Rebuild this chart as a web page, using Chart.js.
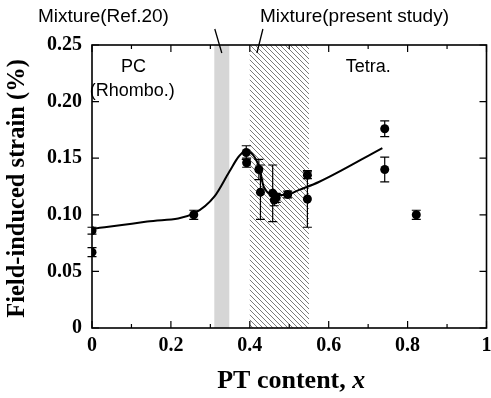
<!DOCTYPE html>
<html>
<head>
<meta charset="utf-8">
<script src="https://cdn.jsdelivr.net/npm/chart.js@4/dist/chart.umd.min.js"></script>
<style>
  html, body { margin: 0; padding: 0; background: #fff; }
  #wrap { width: 491px; height: 398px; }
</style>
</head>
<body>
<div id="wrap"><canvas id="c" width="491" height="398"></canvas></div>
<script>
// Measured strain vs. PT content (x), with error half-widths
const ptContent = [0, 0, 0.258, 0.391, 0.392, 0.423, 0.427, 0.458, 0.462, 0.467, 0.496, 0.546, 0.546, 0.742, 0.742, 0.822];
const strain    = [0.086, 0.067, 0.100, 0.155, 0.146, 0.140, 0.120, 0.119, 0.113, 0.115, 0.118, 0.135, 0.114, 0.176, 0.140, 0.100];
const strainErr = [0.003, 0.004, 0.004, 0.006, 0.004, 0.009, 0.024, 0.025, 0.005, 0.004, 0.003, 0.003, 0.025, 0.007, 0.011, 0.004];

// Guide-to-the-eye trend curve
const trendX = [0, 0.14, 0.26, 0.31, 0.348, 0.372, 0.39, 0.425, 0.435, 0.466, 0.496, 0.525, 0.575, 0.736];
const trendY = [0.0875, 0.094, 0.1015, 0.116, 0.138, 0.1515, 0.1566, 0.141, 0.125, 0.1175, 0.118, 0.122, 0.129, 0.159];

// Phase-mixture ranges
const refMixture = [0.31, 0.348];
const studyMixture = [0.40, 0.55];

// Axis ticks
const xTicks = [0, 0.2, 0.4, 0.6, 0.8, 1];
const yTicks = [0, 0.05, 0.10, 0.15, 0.20, 0.25];

const SERIF = '"Liberation Serif", "Times New Roman", serif';
const SANS = '"Liberation Sans", Arial, sans-serif';

function hatchPattern(ctx) {
  const p = document.createElement('canvas');
  p.width = 5; p.height = 5;
  const g = p.getContext('2d');
  g.fillStyle = '#fff';
  g.fillRect(0, 0, 5, 5);
  g.strokeStyle = '#7a7a7a';
  g.lineWidth = 1;
  g.beginPath();
  for (let k = -1; k <= 1; k++) {
    g.moveTo(k * 5, 0);
    g.lineTo(k * 5 + 5, 5);
  }
  g.stroke();
  return ctx.createPattern(p, 'repeat');
}

// Shaded mixture bands, error bars, frame, inward ticks and region labels
const decorations = {
  id: 'decorations',
  beforeDatasetsDraw(chart) {
    const { ctx, chartArea: a, scales: { x } } = chart;
    ctx.save();
    ctx.fillStyle = '#d6d6d6';
    const r0 = x.getPixelForValue(refMixture[0]), r1 = x.getPixelForValue(refMixture[1]);
    ctx.fillRect(r0, a.top, r1 - r0, a.bottom - a.top);
    ctx.fillStyle = hatchPattern(ctx);
    const s0 = x.getPixelForValue(studyMixture[0]), s1 = x.getPixelForValue(studyMixture[1]);
    ctx.fillRect(s0, a.top, s1 - s0, a.bottom - a.top);
    ctx.restore();
  },
  afterDatasetsDraw(chart) {
    const { ctx, chartArea: a, scales: { x, y } } = chart;
    ctx.save();
    ctx.strokeStyle = '#000';
    ctx.lineWidth = 1.2;
    for (let i = 0; i < ptContent.length; i++) {
      const px = x.getPixelForValue(ptContent[i]);
      const yt = y.getPixelForValue(strain[i] + strainErr[i]);
      const yb = y.getPixelForValue(strain[i] - strainErr[i]);
      ctx.beginPath();
      ctx.moveTo(px, yt); ctx.lineTo(px, yb);
      ctx.moveTo(px - 4.5, yt); ctx.lineTo(px + 4.5, yt);
      ctx.moveTo(px - 4.5, yb); ctx.lineTo(px + 4.5, yb);
      ctx.stroke();
    }
    ctx.lineWidth = 1.6;
    ctx.strokeRect(a.left, a.top, a.right - a.left, a.bottom - a.top);
    ctx.lineWidth = 1.2;
    ctx.beginPath();
    for (let v = 0; v <= 10; v++) {
      const px = x.getPixelForValue(v / 10);
      const len = v % 2 === 0 ? 7 : 4;
      ctx.moveTo(px, a.bottom); ctx.lineTo(px, a.bottom - len);
      ctx.moveTo(px, a.top); ctx.lineTo(px, a.top + len);
    }
    yTicks.forEach(v => {
      const py = y.getPixelForValue(v);
      ctx.moveTo(a.left, py); ctx.lineTo(a.left + 7, py);
      ctx.moveTo(a.right, py); ctx.lineTo(a.right - 7, py);
    });
    ctx.stroke();

    ctx.fillStyle = '#000';
    ctx.font = '18px ' + SANS;
    ctx.textAlign = 'center';
    ctx.textBaseline = 'middle';
    ctx.fillText('PC', x.getPixelForValue(0.105), a.top + 22);
    ctx.fillText('(Rhombo.)', x.getPixelForValue(0.102), a.top + 46);
    ctx.fillText('Tetra.', x.getPixelForValue(0.70), a.top + 22);
    ctx.restore();
  }
};

// Mixture captions with leader lines, and the axis titles
const captions = {
  id: 'captions',
  afterDraw(chart) {
    const { ctx, chartArea: a, scales: { x } } = chart;
    ctx.save();
    ctx.fillStyle = '#000';
    ctx.strokeStyle = '#000';
    ctx.font = '19px ' + SANS;
    ctx.textBaseline = 'middle';
    ctx.textAlign = 'left';
    ctx.fillText('Mixture(Ref.20)', 38, 17);
    ctx.fillText('Mixture(present study)', 260, 17);
    ctx.lineWidth = 1.3;
    ctx.beginPath();
    const refMid = x.getPixelForValue((refMixture[0] + refMixture[1]) / 2);
    ctx.moveTo(refMid - 7, 29); ctx.lineTo(refMid, a.top + 8);
    const st = x.getPixelForValue(studyMixture[0] + 0.018);
    ctx.moveTo(st + 6, 29); ctx.lineTo(st, a.top + 8);
    ctx.stroke();

    const t1 = 'PT content, ';
    ctx.font = 'bold 26px ' + SERIF;
    const w1 = ctx.measureText(t1).width;
    ctx.font = 'bold italic 26px ' + SERIF;
    const w2 = ctx.measureText('x').width;
    const cx = (a.left + a.right) / 2 + 2;
    const startX = cx - (w1 + w2) / 2;
    ctx.font = 'bold 26px ' + SERIF;
    ctx.fillText(t1, startX, 381);
    ctx.font = 'bold italic 26px ' + SERIF;
    ctx.fillText('x', startX + w1, 381);

    ctx.translate(18, (a.top + a.bottom) / 2 + 2);
    ctx.rotate(-Math.PI / 2);
    ctx.textAlign = 'center';
    ctx.font = 'bold 24.5px ' + SERIF;
    ctx.fillText('Field-induced strain (%)', 0, 0);
    ctx.restore();
  }
};

const points = ptContent.map((v, i) => ({ x: v, y: strain[i] }));
const trend = trendX.map((v, i) => ({ x: v, y: trendY[i] }));

new Chart(document.getElementById('c'), {
  type: 'scatter',
  data: {
    datasets: [
      {
        label: 'trend',
        data: trend,
        showLine: true,
        borderColor: '#000',
        borderWidth: 2,
        pointRadius: 0,
        cubicInterpolationMode: 'monotone',
        fill: false,
        order: 2
      },
      {
        label: 'strain',
        data: points,
        pointRadius: 4.5,
        pointBackgroundColor: '#000',
        pointBorderColor: '#000',
        pointBorderWidth: 0,
        order: 1
      }
    ]
  },
  options: {
    responsive: false,
    animation: false,
    layout: { padding: { top: 45, right: 3, left: 0, bottom: 0 } },
    plugins: { legend: { display: false }, tooltip: { enabled: false } },
    scales: {
      x: {
        type: 'linear',
        min: 0, max: 1,
        afterFit(s) { s.height = 70; s.paddingLeft = 0; s.paddingRight = 0; },
        afterBuildTicks(s) { s.ticks = xTicks.map(v => ({ value: v })); },
        grid: { display: false, drawTicks: false },
        border: { display: false },
        ticks: {
          padding: 6,
          color: '#000',
          font: { family: SERIF, weight: 'bold', size: 20 },
          callback: v => (v === 0 || v === 1) ? String(v) : v.toFixed(1)
        }
      },
      y: {
        type: 'linear',
        min: 0, max: 0.25,
        afterFit(s) { s.width = 92; s.paddingTop = 0; s.paddingBottom = 0; },
        afterBuildTicks(s) { s.ticks = yTicks.map(v => ({ value: v })); },
        grid: { display: false, drawTicks: false },
        border: { display: false },
        ticks: {
          padding: 10,
          color: '#000',
          font: { family: SERIF, weight: 'bold', size: 20 },
          callback: v => v === 0 ? '0' : v.toFixed(2)
        }
      }
    }
  },
  plugins: [decorations, captions]
});
</script>
</body>
</html>
